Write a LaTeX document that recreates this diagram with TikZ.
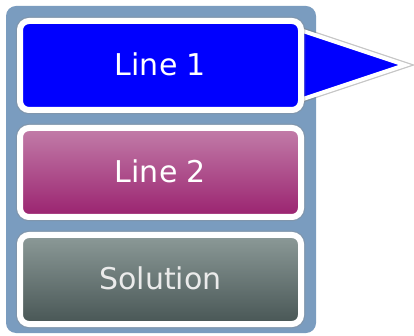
\documentclass[tikz,border=0pt]{standalone}
\usepackage{fontspec}
\setmainfont{DejaVu Sans}
\definecolor{panelblue}{HTML}{7A9CBF}
\definecolor{linetwotop}{HTML}{C27DA9}
\definecolor{linetwobot}{HTML}{9A226F}
\definecolor{soltop}{HTML}{8C9A98}
\definecolor{solbot}{HTML}{485655}
\begin{document}
\begin{tikzpicture}[x=1pt,y=-1pt,
  panel/.style={fill=panelblue, rounded corners=10pt},
  glow/.style={preaction={draw=black!45, opacity=0.35, line width=8.5pt}},
  boxstyle/.style={glow, draw=white, line width=6pt, rounded corners=9pt,
    minimum width=281pt, minimum height=89pt, inner sep=0pt},
  label/.style={text=white, font=\fontsize{30}{36}\selectfont, inner sep=0pt},
  pointer/.style={draw=white, line width=4pt, fill=blue, line join=miter,
    preaction={draw=black!50, opacity=0.45, line width=6.5pt, line join=miter}}
]
\useasboundingbox (0,0) rectangle (414,336);
\path[panel] (6,6) rectangle (316,333);
\coordinate (tipA) at (300,30);
\coordinate (tipB) at (405,65);
\coordinate (tipC) at (300,100);
\path[pointer] (tipA) -- (tipB) -- (tipC) -- cycle;
\node[boxstyle, fill=blue] (line1) at (160.5,65.5) {};
\node[boxstyle, top color=linetwotop, bottom color=linetwobot] (line2) at (160.5,172.5) {};
\node[boxstyle, top color=soltop, bottom color=solbot] (sol) at (160.5,279.5) {};
\node[label] (t1) at (160.5,64) {Line 1};
\node[label] (t2) at (160.5,171) {Line 2};
\node[label, text=white!92!black] (t3) at (160.5,278) {Solution};
\end{tikzpicture}
\end{document}
